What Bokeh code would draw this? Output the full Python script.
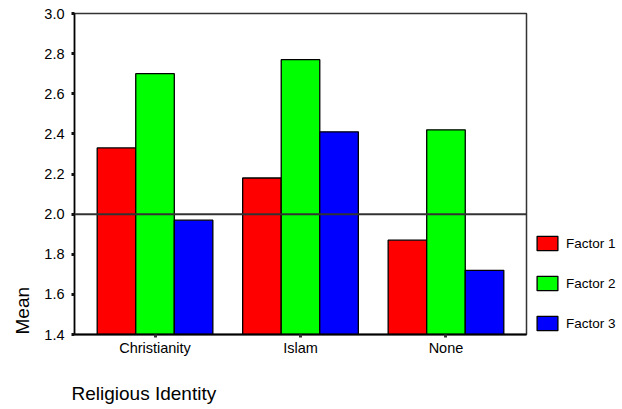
from bokeh.plotting import figure
from bokeh.models import (FactorRange, Range1d, ColumnDataSource, Span, Legend, LegendItem,
                          FixedTicker, PrintfTickFormatter, Title)
from bokeh.transform import dodge
from bokeh.embed import file_html
from bokeh.resources import INLINE

categories = ["Christianity", "Islam", "None"]
factor1 = [2.33, 2.18, 1.87]
factor2 = [2.70, 2.77, 2.42]
factor3 = [1.97, 2.41, 1.72]
series_names = ["Factor 1", "Factor 2", "Factor 3"]
series_colors = ["#ff0000", "#00ff00", "#0000ff"]
y_ticks = [1.4, 1.6, 1.8, 2.0, 2.2, 2.4, 2.6, 2.8, 3.0]
reference_value = 2.0

FONT = "Liberation Sans"

src = ColumnDataSource(dict(cat=categories, f1=factor1, f2=factor2, f3=factor3))

p = figure(frame_width=452, frame_height=321, output_backend="svg", toolbar_location=None,
           x_range=FactorRange(factors=categories, range_padding=0.0535,
                               range_padding_units="absolute"),
           y_range=Range1d(1.4, 3.0),
           min_border_left=73, min_border_right=89, min_border_top=13, min_border_bottom=67)

p.background_fill_color = "white"
p.border_fill_color = "white"
p.outline_line_color = "#333333"
p.outline_line_width = 1.5
p.xgrid.visible = False
p.ygrid.visible = False

bw = 0.265
offsets = [-bw, 0.0, bw]
cols = ["f1", "f2", "f3"]
renderers = []
for col, off, color in zip(cols, offsets, series_colors):
    r = p.vbar(x=dodge("cat", off, range=p.x_range), top=col, bottom=0, width=bw, source=src,
               fill_color=color, line_color="black", line_width=1.3)
    renderers.append(r)

p.add_layout(Span(location=reference_value, dimension="width", line_color="#333333",
                  line_width=2))

# axes
yax = p.yaxis[0]
yax.ticker = FixedTicker(ticks=y_ticks)
yax.formatter = PrintfTickFormatter(format="%.1f")
yax.axis_line_color = "black"
yax.axis_line_width = 1.5
yax.major_tick_in = 0
yax.major_tick_out = 3
yax.major_tick_line_width = 3
yax.major_tick_line_color = "#111111"
yax.minor_tick_line_color = None
yax.major_label_standoff = 7
yax.major_label_text_font = FONT
yax.major_label_text_font_size = "14.5px"
yax.major_label_text_color = "black"

xax = p.xaxis[0]
xax.axis_line_color = "black"
xax.axis_line_width = 2
xax.major_tick_in = 0
xax.major_tick_out = 3
xax.major_tick_line_width = 3
xax.major_tick_line_color = "#333333"
xax.major_label_standoff = 2
xax.major_label_text_font = FONT
xax.major_label_text_font_size = "14.5px"
xax.major_label_text_color = "black"

p.add_layout(Title(text="Mean", align="left", text_font=FONT, text_font_size="19px",
                   text_font_style="normal", text_color="black", standoff=18), "left")
p.add_layout(Title(text="Religious Identity", align="left", text_font=FONT,
                   text_font_size="19px", text_font_style="normal", text_color="black",
                   standoff=44, offset=-3), "below")

legend = Legend(items=[LegendItem(label=n, renderers=[r]) for n, r in zip(series_names, renderers)],
                location=(8, 2), orientation="vertical",
                glyph_width=26, glyph_height=18, spacing=22, label_standoff=6,
                padding=0, margin=0, border_line_alpha=0, background_fill_alpha=0,
                label_text_font=FONT, label_text_font_size="13.5px", label_text_color="black")
p.add_layout(legend, "right")

open("out.html", "w").write(file_html(p, INLINE))
